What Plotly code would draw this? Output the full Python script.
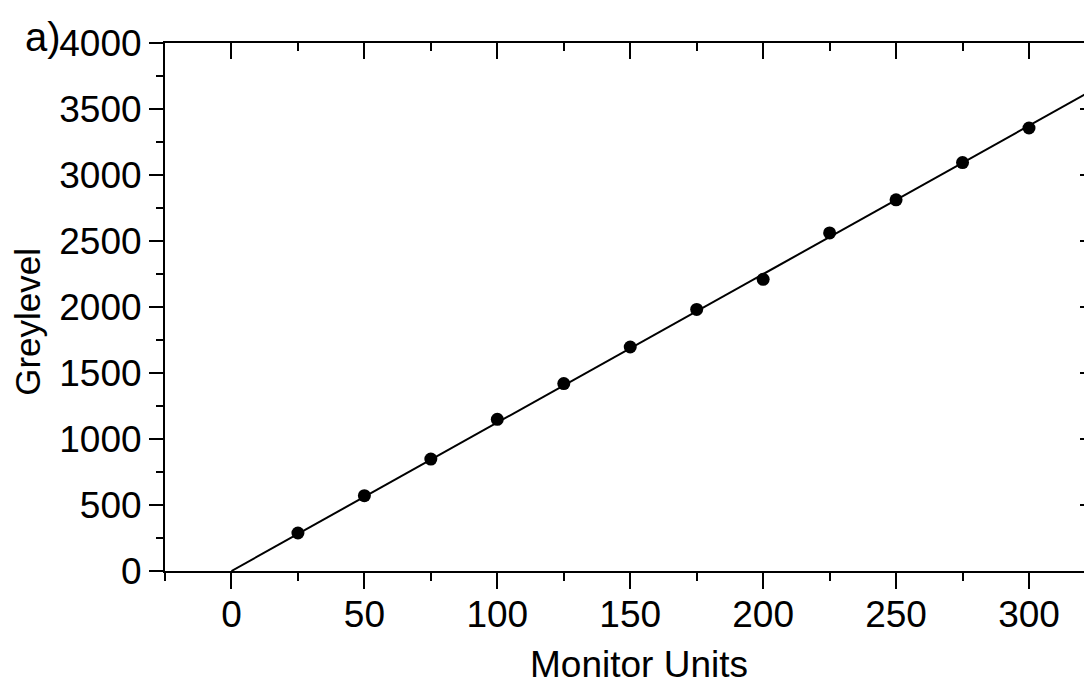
import plotly.graph_objects as go

# Data
monitor_units = [25, 50, 75, 100, 125, 150, 175, 200, 225, 250, 275, 300]
greylevel = [288, 571, 848, 1149, 1420, 1697, 1982, 2210, 2561, 2812, 3094, 3356]
fit_x = [0, 325]
fit_y = [0, 3655]
x_ticks = [0, 50, 100, 150, 200, 250, 300]
y_ticks = [0, 500, 1000, 1500, 2000, 2500, 3000, 3500, 4000]

FONT = "Arial, Liberation Sans, sans-serif"
X_RANGE = [-25, 323.7]
Y_RANGE = [0, 4000]

fig = go.Figure()
fig.add_trace(go.Scatter(x=fit_x, y=fit_y, mode="lines",
                         line=dict(color="black", width=2), hoverinfo="skip",
                         showlegend=False, cliponaxis=True))
fig.add_trace(go.Scatter(x=monitor_units, y=greylevel, mode="markers",
                         marker=dict(color="black", size=13), showlegend=False))
# invisible trace to activate mirrored axes
fig.add_trace(go.Scatter(x=fit_x, y=fit_y, xaxis="x2", yaxis="y2", mode="lines",
                         line=dict(color="rgba(0,0,0,0)"), hoverinfo="skip",
                         showlegend=False))

axis_font = dict(family=FONT, size=37, color="black")

fig.update_layout(
    width=1084, height=681,
    margin=dict(l=157, r=0, t=35, b=118),
    paper_bgcolor="white", plot_bgcolor="white",
    font=dict(family=FONT, color="black"),
    xaxis=dict(range=X_RANGE, tickvals=x_ticks, ticktext=[str(v) for v in x_ticks],
               ticks="outside", ticklen=16, tickwidth=2, tickcolor="black",
               ticklabelstandoff=-6,
               showline=True, linewidth=2, linecolor="black",
               showgrid=False, zeroline=False, tickfont=axis_font,
               minor=dict(tick0=0, dtick=25, ticks="outside", ticklen=8,
                          tickwidth=2, tickcolor="black", showgrid=False)),
    yaxis=dict(range=Y_RANGE, tickvals=y_ticks, ticktext=[str(v) for v in y_ticks],
               ticks="outside", ticklen=14, tickwidth=2, tickcolor="black",
               showline=True, linewidth=2, linecolor="black",
               showgrid=False, zeroline=False, tickfont=axis_font,
               minor=dict(tick0=0, dtick=250, ticks="outside", ticklen=7,
                          tickwidth=2, tickcolor="black", showgrid=False)),
    xaxis2=dict(range=X_RANGE, overlaying="x", side="top", tickvals=x_ticks,
                ticks="inside", ticklen=16, tickwidth=2, tickcolor="black",
                showticklabels=False, showline=True, linewidth=2, linecolor="black",
                showgrid=False, zeroline=False,
                minor=dict(tick0=0, dtick=25, ticks="inside", ticklen=8,
                           tickwidth=2, tickcolor="black", showgrid=False)),
    yaxis2=dict(range=Y_RANGE, overlaying="y", side="right", tickvals=y_ticks,
                ticks="inside", ticklen=12, tickwidth=2, tickcolor="black",
                showticklabels=False, showline=False,
                showgrid=False, zeroline=False,
                minor=dict(tick0=0, dtick=250, ticks="inside", ticklen=4,
                           tickwidth=2, tickcolor="black", showgrid=False)),
    annotations=[
        dict(text="Monitor Units", xref="paper", yref="paper", x=0.511, y=-0.178,
             xanchor="center", yanchor="middle", showarrow=False,
             font=dict(family=FONT, size=37, color="black")),
        dict(text="Greylevel", xref="paper", yref="paper", x=-0.1478, y=0.472,
             xanchor="center", yanchor="middle", showarrow=False, textangle=-90,
             font=dict(family=FONT, size=35, color="black")),
        dict(text="a)", xref="paper", yref="paper", x=-0.1316, y=1.012,
             xanchor="center", yanchor="middle", showarrow=False,
             font=dict(family=FONT, size=40, color="black")),
    ],
)

fig.write_html("out.html")
